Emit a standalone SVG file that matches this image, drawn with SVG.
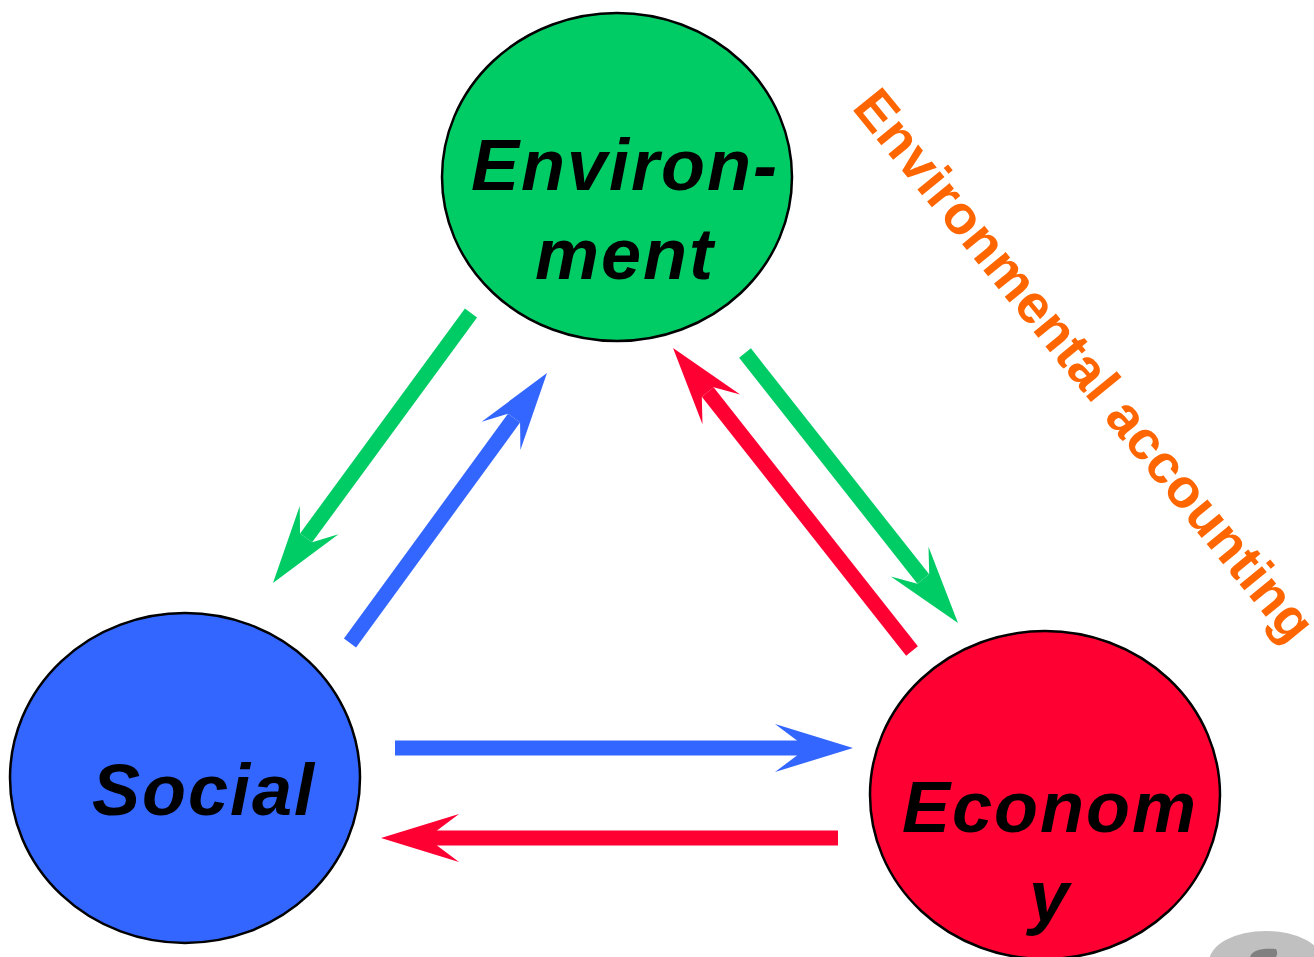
<svg xmlns="http://www.w3.org/2000/svg" width="1314" height="957" viewBox="0 0 1314 957">
<style>
.node{stroke:#000;stroke-width:2.5}
.lbl{font-family:"Liberation Sans",Arial,sans-serif;font-weight:bold;font-style:italic;font-size:72px;letter-spacing:2px;fill:#000;text-anchor:middle}
.shaft{stroke-width:15;fill:none;stroke-linecap:butt}
.acct{font-family:"Liberation Sans",Arial,sans-serif;font-weight:bold;font-size:54.5px;letter-spacing:0.4px;fill:#FF6600}
</style>
<defs>
<marker id="hg" markerUnits="userSpaceOnUse" orient="auto" refX="0" refY="0" markerWidth="10" markerHeight="10" overflow="visible"><path d="M56,0 L-22,-24 L0,-7.5 L0,7.5 L-22,24 Z" fill="#00CC66"/></marker>
<marker id="hb" markerUnits="userSpaceOnUse" orient="auto" refX="0" refY="0" markerWidth="10" markerHeight="10" overflow="visible"><path d="M56,0 L-22,-24 L0,-7.5 L0,7.5 L-22,24 Z" fill="#3366FF"/></marker>
<marker id="hr" markerUnits="userSpaceOnUse" orient="auto" refX="0" refY="0" markerWidth="10" markerHeight="10" overflow="visible"><path d="M56,0 L-22,-24 L0,-7.5 L0,7.5 L-22,24 Z" fill="#FF0033"/></marker>
</defs>
<rect width="1314" height="957" fill="#fff"/>
<g id="connectors">
<line class="shaft" stroke="#00CC66" x1="471" y1="313" x2="306.1" y2="537.9" marker-end="url(#hg)"/>
<line class="shaft" stroke="#3366FF" x1="350" y1="643" x2="514" y2="418.2" marker-end="url(#hb)"/>
<line class="shaft" stroke="#FF0033" x1="912" y1="651" x2="707.7" y2="392" marker-end="url(#hr)"/>
<line class="shaft" stroke="#00CC66" x1="745" y1="353" x2="923.3" y2="579" marker-end="url(#hg)"/>
<line class="shaft" stroke="#3366FF" x1="395" y1="748" x2="797" y2="748" marker-end="url(#hb)"/>
<line class="shaft" stroke="#FF0033" x1="838" y1="838" x2="437" y2="838" marker-end="url(#hr)"/>
</g>
<g id="environment">
<ellipse class="node" cx="617" cy="177" rx="175" ry="164" fill="#00CC66"/>
<text class="lbl" x="625" y="190">Environ-</text>
<text class="lbl" x="625" y="279">ment</text>
</g>
<g id="social">
<ellipse class="node" cx="185" cy="778" rx="175" ry="165" fill="#3366FF"/>
<text class="lbl" x="204" y="815">Social</text>
</g>
<g id="economy">
<ellipse class="node" cx="1045" cy="795" rx="175" ry="164" fill="#FF0033"/>
<text class="lbl" x="1050" y="832">Econom</text>
<text class="lbl" x="1050" y="921">y</text>
</g>
<g id="environmental-accounting">
<text class="acct" transform="translate(851,108) rotate(50.8)">Environmental accounting</text>
</g>
<g id="corner-shape">
<ellipse cx="1266" cy="962" rx="57" ry="31" fill="#C0C0C0"/>
<path d="M1250,957 C1252,950 1262,948 1276,949 C1278,952 1277,955 1276,957 Z" fill="#808080"/>
</g>
</svg>
